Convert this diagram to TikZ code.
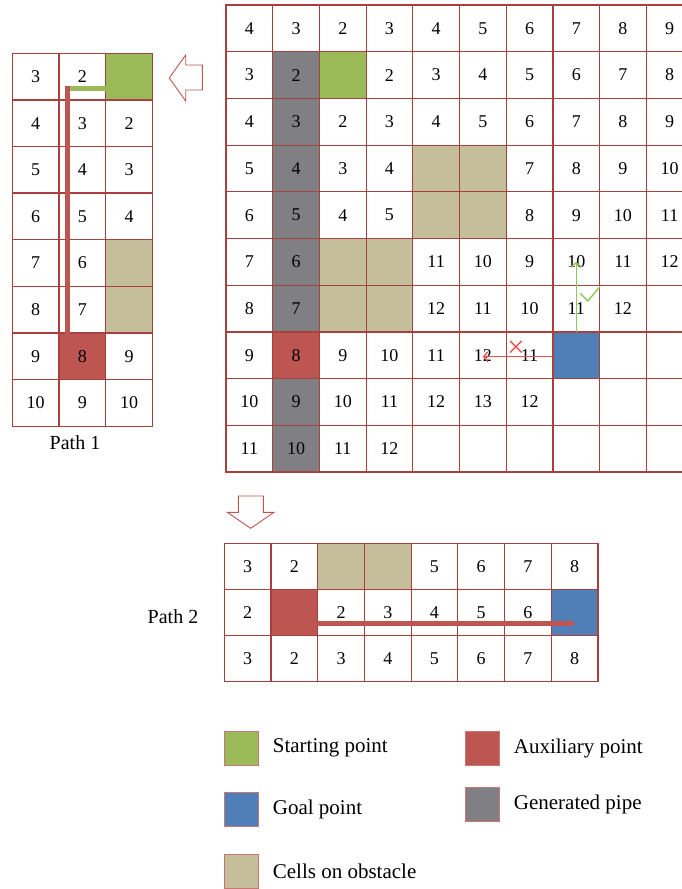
\documentclass[tikz,border=0pt]{standalone}
\usepackage{fontspec}
\setmainfont{Liberation Serif}
\usetikzlibrary{positioning, calc, backgrounds, arrows.meta}

\definecolor{gridred}{HTML}{A8403E}
\definecolor{startgreen}{HTML}{9BBB59}
\definecolor{goalblue}{HTML}{4F7FB6}
\definecolor{auxred}{HTML}{BD5551}
\definecolor{pipegray}{HTML}{808084}
\definecolor{obstacle}{HTML}{C4BE9A}
\definecolor{okgreen}{HTML}{8CCB5A}
\definecolor{badred}{HTML}{F25050}

\begin{document}
\begin{tikzpicture}[
    x=1pt, y=-1pt,
    node distance=14pt,
    cell/.style={draw=gridred, line width=1.2pt, minimum width=46.7,
                 minimum height=46.7, inner sep=0, outer sep=0,
                 font=\fontsize{18}{20}\selectfont},
    key/.style={draw=auxred!80, line width=1pt, minimum size=34, inner sep=0},
    keytext/.style={inner sep=0, anchor=west, font=\fontsize{21}{23}\selectfont},
    pathlabel/.style={font=\fontsize{20}{22}\selectfont},
    startpipe/.style={draw=startgreen, line width=4.8pt},
    auxpipe/.style={draw=auxred, line width=4.8pt, line cap=rect},
    okmove/.style={draw=okgreen, line width=1.4pt},
    badmove/.style={draw=badred, line width=1.4pt},
    hollow/.style={draw=auxred, line width=0.9pt, fill=white, line join=miter}
]
\clip (0,0) rectangle (682,889);

% search grid
\foreach \row [count=\r] in {
    {4,3,2,3,4,5,6,7,8,9},
    {3,2,{},2,3,4,5,6,7,8},
    {4,3,2,3,4,5,6,7,8,9},
    {5,4,3,4,{},{},7,8,9,10},
    {6,5,4,5,{},{},8,9,10,11},
    {7,6,{},{},11,10,9,10,11,12},
    {8,7,{},{},12,11,10,11,12,{}},
    {9,8,9,10,11,12,11,{},{},{}},
    {10,9,10,11,12,13,12,{},{},{}},
    {11,10,11,12,{},{},{},{},{},{}}}
  \foreach \v [count=\c] in \row
    \node[cell] (m-\r-\c) at ({226+46.7*(\c-0.5)},{5+46.7*(\r-0.5)}) {\v};

% path 1
\foreach \row [count=\r] in {
    {3,2,{}}, {4,3,2}, {5,4,3}, {6,5,4},
    {7,6,{}}, {8,7,{}}, {9,8,9}, {10,9,10}}
  \foreach \v [count=\c] in \row
    \node[cell] (p-\r-\c) at ({12.3+46.7*(\c-0.5)},{53.3+46.6*(\r-0.5)}) {\v};

% path 2
\foreach \row [count=\r] in {
    {3,2,{},{},5,6,7,8},
    {2,{},2,3,4,5,6,{}},
    {3,2,3,4,5,6,7,8}}
  \foreach \v [count=\c] in \row
    \node[cell, minimum height=46] (q-\r-\c) at ({224.3+46.7*(\c-0.5)},{543.3+46*(\r-0.5)}) {\v};

\begin{pgfonlayer}{background}
  \fill[pipegray] (m-2-2.north west) rectangle (m-7-2.south east);
  \fill[pipegray] (m-9-2.north west) rectangle (m-10-2.south east);
  \fill[auxred] (m-8-2.north west) rectangle (m-8-2.south east);
  \fill[startgreen] (m-2-3.north west) rectangle (m-2-3.south east);
  \fill[obstacle] (m-4-5.north west) rectangle (m-5-6.south east);
  \fill[obstacle] (m-6-3.north west) rectangle (m-7-4.south east);
  \fill[goalblue] (m-8-8.north west) rectangle (m-8-8.south east);
  \fill[startgreen] (p-1-3.north west) rectangle (p-1-3.south east);
  \fill[obstacle] (p-5-3.north west) rectangle (p-6-3.south east);
  \fill[auxred] (p-7-2.north west) rectangle (p-7-2.south east);
  \fill[obstacle] (q-1-3.north west) rectangle (q-1-4.south east);
  \fill[auxred] (q-2-2.north west) rectangle (q-2-2.south east);
  \fill[goalblue] (q-2-8.north west) rectangle (q-2-8.south east);
\end{pgfonlayer}

% moves tried from the goal
\draw[okmove, -{Straight Barb[length=4pt, width=10pt]}] (m-8-8.north) -- (m-6-8.center);
\draw[okmove] ($(m-7-8)+(3.8,-15.3)$) -- ++(7.7,7.7) -- ++(12.3,-14.3);
\draw[badmove, -{Straight Barb[length=4pt, width=10pt]}]
    ($(m-8-8.west)+(0,1.5)$) -- ($(m-8-6.center)+(0,1.5)$);
\draw[badmove] ($(m-8-7)+(-19.5,-14.3)$) -- ++(11.6,11.6)
               ($(m-8-7)+(-19.5,-2.7)$) -- ++(11.6,-11.6);

% generated pipes
\coordinate (bend) at ($(p-1-2)+(-14.6,11.6)$);
\draw[startpipe] (bend) -- (bend -| p-1-3.west);
\draw[auxpipe] (bend) -- (bend |- p-7-2.north);
\draw[auxpipe] ($(q-2-3.west)+(0,11)$) -- ($(q-2-8.center)+(-3,11)$);

% hollow arrows
\draw[hollow] (202.3,65) -- (185.7,65) -- (185.7,55) -- (169.3,78)
              -- (185.7,101) -- (185.7,90) -- (202.3,90) -- cycle;
\draw[hollow] (238.3,496) -- (263.3,496) -- (263.3,512.3) -- (274,512.3)
              -- (250.7,528.3) -- (227.3,512.3) -- (238.3,512.3) -- cycle;

\node[pathlabel] (path1) at (75,443) {Path 1};
\node[pathlabel] (path2) at (173,617) {Path 2};

% legend
\node[key, fill=startgreen] (kstart) at (241.2,748.3) {};
\node[keytext, right=of kstart] (tstart) {Starting point};
\node[key, fill=goalblue] (kgoal) at (241.2,809.7) {};
\node[keytext, right=of kgoal] (tgoal) {Goal point};
\node[key, fill=obstacle] (kobst) at (241.2,871.3) {};
\node[keytext, right=of kobst] (tobst) {Cells on obstacle};
\node[key, fill=auxred] (kaux) at (482.2,748.3) {};
\node[keytext, right=of kaux] (taux) {Auxiliary point};
\node[key, fill=pipegray] (kpipe) at (482.2,804.7) {};
\node[keytext, right=of kpipe] (tpipe) {Generated pipe};

\end{tikzpicture}
\end{document}
